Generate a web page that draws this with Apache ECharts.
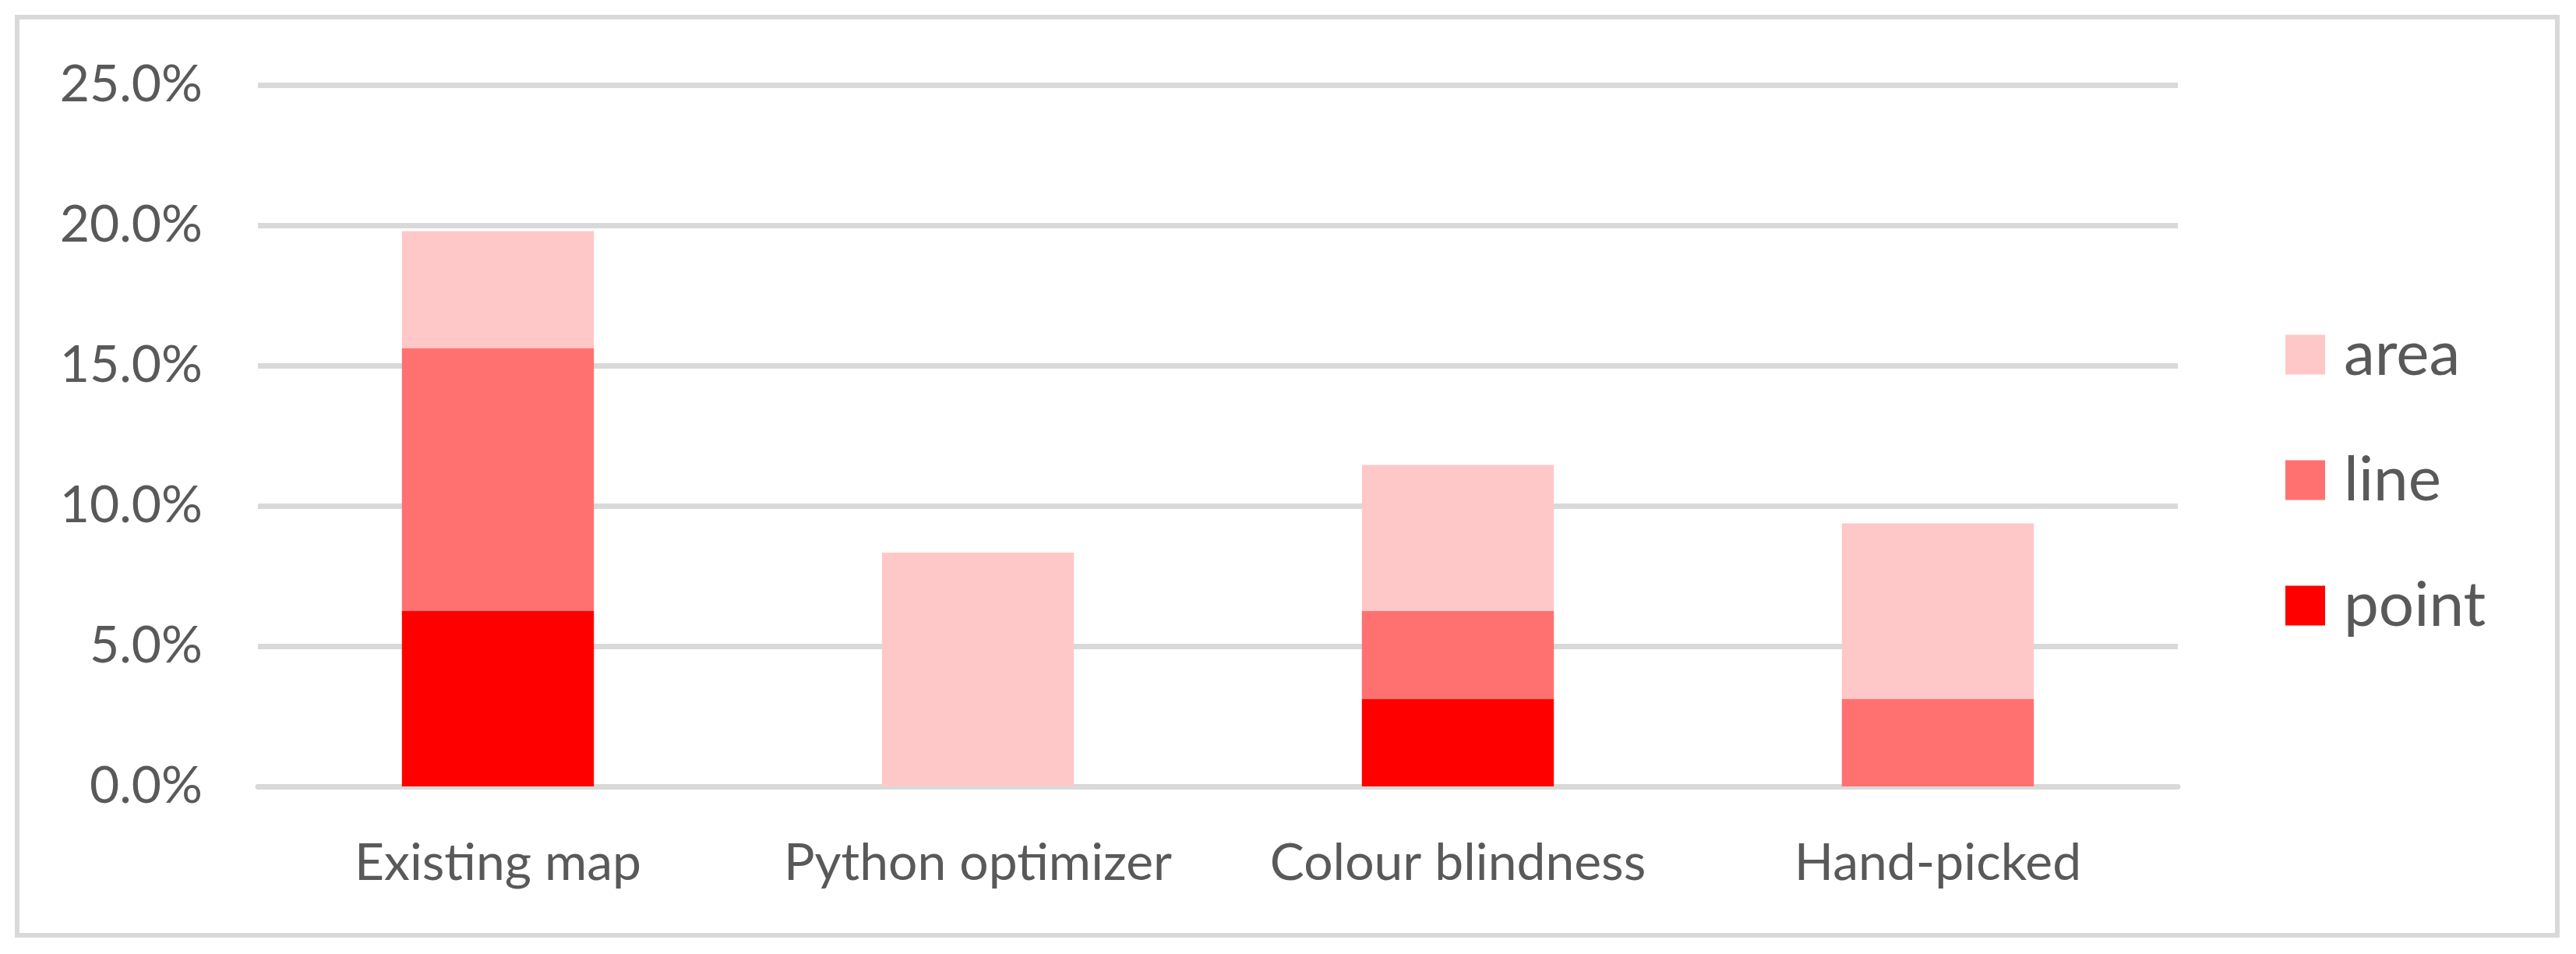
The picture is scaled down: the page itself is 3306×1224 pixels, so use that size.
<!DOCTYPE html>
<html>
<head>
<meta charset="utf-8">
<script src="https://cdn.jsdelivr.net/npm/echarts@6/dist/echarts.min.js"></script>
<style>
html,body{margin:0;padding:0;background:#fff;}
#chart{width:3306px;height:1224px;}
</style>
</head>
<body>
<div id="chart"></div>
<script>
var categories = ['Existing map', 'Python optimizer', 'Colour blindness', 'Hand-picked'];
var pointValues = [6.25, 0, 3.125, 0];
var lineValues = [9.375, 0, 3.125, 3.125];
var areaValues = [4.167, 8.333, 5.208, 6.25];
var legendNames = ['area', 'line', 'point'];

var FONT = 'Lato';
var TXT = '#595959';
var chart = echarts.init(document.getElementById('chart'), null, {renderer: 'canvas'});
chart.setOption({
  backgroundColor: '#ffffff',
  animation: false,
  graphic: [{
    type: 'rect',
    shape: {x: 22, y: 22, width: 3260, height: 1178},
    style: {fill: 'none', stroke: '#D9D9D9', lineWidth: 6},
    z: -1
  }],
  grid: {left: 331, right: 511, top: 109, bottom: 215},
  legend: {
    orient: 'vertical',
    left: 2928,
    top: 410,
    itemWidth: 51,
    itemHeight: 51,
    itemGap: 81,
    icon: 'rect',
    data: legendNames,
    textStyle: {fontFamily: FONT, fontSize: 80, color: TXT, padding: [0, 0, 0, 19]}
  },
  xAxis: {
    type: 'category',
    data: categories,
    axisLine: {show: true, lineStyle: {color: '#D9D9D9', width: 7}},
    axisTick: {show: false},
    axisLabel: {interval: 0, fontFamily: FONT, fontSize: 66, color: TXT, margin: 66}
  },
  yAxis: {
    type: 'value',
    min: 0,
    max: 25,
    interval: 5,
    axisLine: {show: false},
    axisTick: {show: false},
    splitLine: {lineStyle: {color: '#D9D9D9', width: 7}},
    axisLabel: {
      fontFamily: FONT, fontSize: 66, color: TXT, margin: 71,
      formatter: function (v) { return v.toFixed(1) + '%'; }
    }
  },
  series: [
    {name: 'point', type: 'bar', stack: 's', data: pointValues, barCategoryGap: '60%', itemStyle: {color: '#FF0000'}},
    {name: 'line', type: 'bar', stack: 's', data: lineValues, barCategoryGap: '60%', itemStyle: {color: '#FF7171'}},
    {name: 'area', type: 'bar', stack: 's', data: areaValues, barCategoryGap: '60%', itemStyle: {color: '#FEC8C8'}}
  ]
});
</script>
</body>
</html>
